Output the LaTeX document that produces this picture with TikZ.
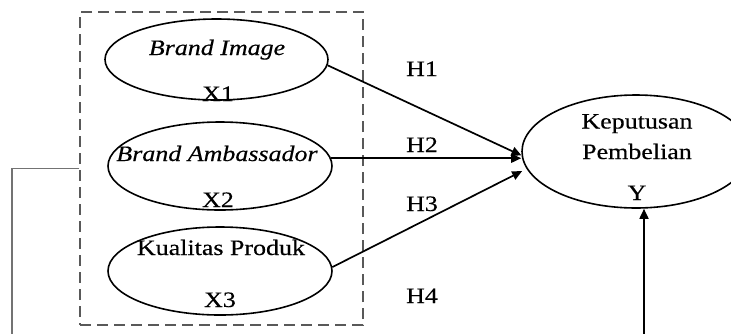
\documentclass[tikz,border=0pt]{standalone}
\usepackage{fontspec}
\setmainfont{Liberation Serif}[FakeStretch=1.18,FakeBold=0.35]
\usetikzlibrary{shapes.geometric,arrows.meta}
\begin{document}
\begin{tikzpicture}[x=1pt,y=-1pt,
  ell/.style={ellipse, draw, line width=1.6pt, inner sep=0pt},
  lbl/.style={anchor=base, inner sep=0pt, font=\fontsize{22}{24}\selectfont},
  arr/.style={line width=1.7pt, -{Triangle[length=10pt,width=9pt]}},
  grp/.style={draw=black!65, line width=1.8pt, dash pattern=on 11pt off 6pt, inner sep=0pt},
  feed/.style={draw=black!55, line width=1.1pt}]
\useasboundingbox (0,0) rectangle (731,333);
\clip (0,0) rectangle (731,333);
\fill[white] (0,0) rectangle (731,333);

% group box
\node[grp, minimum width=283pt, minimum height=313pt] (box) at (221.5,168.5) {};

% ellipses
\node[ell, minimum width=223pt, minimum height=81pt] (e1) at (216.5,59.5) {};
\node[ell, minimum width=224pt, minimum height=88pt] (e2) at (220,166) {};
\node[ell, minimum width=224pt, minimum height=88pt] (e3) at (220,271) {};
\node[ell, minimum width=228pt, minimum height=113pt] (Y) at (636,151.5) {};

% labels inside ellipses
\node[lbl] (t1) at (217,55) {\itshape Brand Image};
\node[lbl] (x1) at (218,101) {X1};
\node[lbl] (t2) at (217,161) {\itshape Brand Ambassador};
\node[lbl] (x2) at (218,207) {X2};
\node[lbl] (t3) at (221,255) {Kualitas Produk};
\node[lbl] (x3) at (220,307) {X3};
\node[lbl] (ty1) at (637,128.5) {Keputusan};
\node[lbl] (ty2) at (637,159) {Pembelian};
\node[lbl] (ty3) at (637,200) {Y};

% hypothesis labels
\node[lbl] (h1) at (422,76) {H1};
\node[lbl] (h2) at (422,152) {H2};
\node[lbl] (h3) at (422,211) {H3};
\node[lbl] (h4) at (422,303) {H4};

% connectors
\draw[arr] (e1.-3) -- (Y.182);
\draw[arr] (e2.4) -- (e2.4 -| Y.west);
\draw[arr, shorten >=5pt] (e3.2) -- (Y.189);

\coordinate (yb) at (644,340);
\draw[arr] (yb) -- (yb |- Y.south);

\coordinate (lb) at (12,340);
\draw[feed] (box.west) -| (lb);
\end{tikzpicture}
\end{document}
